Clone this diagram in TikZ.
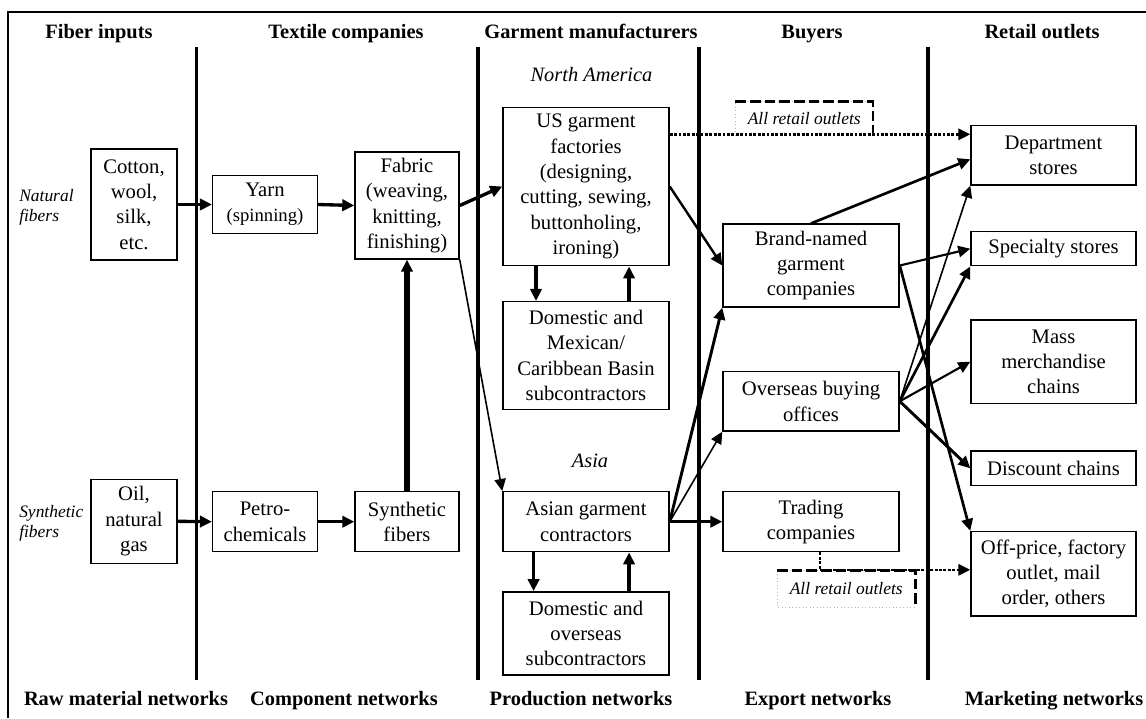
\documentclass[tikz,border=0pt]{standalone}
\usepackage{fontspec}
\setmainfont{Liberation Serif}
\usetikzlibrary{arrows.meta,calc}

\begin{document}
\begin{tikzpicture}[x=0.75pt,y=-0.75pt,
  box/.style={draw, line width=1.1pt, align=center, inner sep=0pt,
    font=\fontsize{15.5pt}{19pt}\selectfont},
  head/.style={font=\bfseries\fontsize{15.3pt}{18pt}\selectfont, inner sep=0pt, anchor=base},
  region/.style={font=\itshape\fontsize{15.3pt}{18pt}\selectfont, inner sep=0pt, anchor=base},
  side/.style={font=\itshape\fontsize{13.1pt}{15pt}\selectfont, align=left,
    anchor=west, inner sep=0pt},
  tag/.style={font=\itshape\fontsize{13.1pt}{15pt}\selectfont, inner sep=0pt},
  sep/.style={line width=3.2pt},
  tip/.style={-{Triangle[length=9pt,width=8.5pt]}},
  heavy/.style={tip, line width=2.5pt},
  mid/.style={tip, line width=1.8pt},
  light/.style={tip, line width=1.2pt},
  dotline/.style={tip, line width=1.9pt, dash pattern=on 2.2pt off 1.1pt},
  tagdash/.style={line width=1.8pt, dash pattern=on 8pt off 3pt},
  tagfaint/.style={line width=0.6pt, gray!60, dotted}
]
\useasboundingbox (0,0) rectangle (1146,718);

% frame
\draw[line width=1.2pt] (8,718) -- (8,12) -- (1146,12);

% column separators
\draw[line width=2.5pt] (196.5,47) -- (196.5,680);
\draw[sep] (478,47) -- (478,680);
\draw[sep] (699,47) -- (699,680);
\draw[sep] (928,47) -- (928,680);

% column headings
\node[head] (h1) at (99,38.5) {Fiber inputs};
\node[head] (h2) at (346,38.5) {Textile companies};
\node[head] (h3) at (591,38.5) {Garment manufacturers};
\node[head] (h4) at (812,38.5) {Buyers};
\node[head] (h5) at (1042,38.5) {Retail outlets};

% network labels
\node[head] (f1) at (126,705.5) {Raw material networks};
\node[head] (f2) at (344,705.5) {Component networks};
\node[head] (f3) at (581,705.5) {Production networks};
\node[head] (f4) at (818,705.5) {Export networks};
\node[head] (f5) at (1054,705.5) {Marketing networks};

% side and region labels
\node[side] (nat) at (19,207) {Natural\\fibers};
\node[side] (syn) at (19,523) {Synthetic\\fibers};
\node[region] (na) at (591.5,81.7) {North America};
\node[region] (as) at (590,467.3) {Asia};

% raw materials
\node[box, minimum width=64.5pt, minimum height=83.25pt] (cotton) at (134,204.5) {Cotton,\\wool,\\silk,\\etc.};
\node[box, minimum width=64.5pt, minimum height=63pt] (oil) at (134,521.3) {Oil,\\natural\\gas};

% components
\node[box, minimum width=78.5pt, minimum height=43.2pt] (yarn) at (265,204.5) {Yarn\\{\fontsize{14pt}{16pt}\selectfont(spinning)}};
\node[box, minimum width=78pt, minimum height=80.25pt] (fabric) at (407,205.5) {Fabric\\(weaving,\\knitting,\\finishing)};
\node[box, minimum width=78.5pt, minimum height=45pt] (petro) at (265,521.7) {Petro-\\chemicals};
\node[box, minimum width=78pt, minimum height=45pt] (synth) at (407,521.7) {Synthetic\\fibers};

% production
\node[box, minimum width=124.5pt, minimum height=118.8pt] (us) at (586,186.5) {US garment\\factories\\(designing,\\cutting, sewing,\\buttonholing,\\ironing)};
\node[box, minimum width=124.5pt, minimum height=80.7pt] (dommex) at (586,355.5) {Domestic and\\Mexican/\\Caribbean Basin\\subcontractors};
\node[box, minimum width=124.5pt, minimum height=45pt] (asian) at (586,521.7) {Asian garment\\contractors};
\node[box, minimum width=124.5pt, minimum height=62.5pt] (domover) at (586,633.5) {Domestic and\\overseas\\subcontractors};

% buyers
\node[box, minimum width=132pt, minimum height=62pt] (brand) at (811,265.5) {Brand-named\\garment\\companies};
\node[box, minimum width=132pt, minimum height=44.5pt] (overseas) at (811,401.3) {Overseas buying\\offices};
\node[box, minimum width=132pt, minimum height=45pt] (trading) at (811,521.7) {Trading\\companies};

% retail outlets
\node[box, minimum width=123.75pt, minimum height=44.5pt] (dept) at (1053.5,155.3) {Department\\stores};
\node[box, minimum width=123.75pt, minimum height=25.5pt] (spec) at (1053.5,248.7) {Specialty stores};
\node[box, minimum width=123.75pt, minimum height=62.5pt] (mass) at (1053.5,361.7) {Mass\\merchandise\\chains};
\node[box, minimum width=123.75pt, minimum height=26pt] (disc) at (1053.5,468.3) {Discount chains};
\node[box, minimum width=123.75pt, minimum height=63.2pt] (off) at (1053.5,573.8) {Off-price, factory\\outlet, mail\\order, others};

% "All retail outlets" tags
\node[tag, minimum width=102.75pt, minimum height=25pt] (ar1) at (804.2,118.4) {All retail outlets};
\node[tag, minimum width=103.3pt, minimum height=27.5pt] (ar2) at (846.2,589) {All retail outlets};
\draw[tagfaint] (ar1.south west) -- (ar1.north west) -- (ar1.north east);
\draw[tagdash] (ar1.north west) -- (ar1.north east) -- (ar1.south east);
\draw[tagfaint] (ar2.north east) -- (ar2.north west) -- (ar2.south west) -- (ar2.south east);
\draw[tagdash] (ar2.north west) -- (ar2.north east) -- (ar2.south east);

% fiber and textile flows
\draw[heavy] (cotton.east) -- (yarn.west);
\draw[heavy] (yarn.east) -- (fabric.west);
\draw[heavy] (oil.east) -- (petro.west);
\draw[heavy] (petro.east) -- (synth.west);
\draw[tip, line width=3.8pt] (synth.north) -- (fabric.south);
\draw[heavy] (fabric.east) -- (us.west);
\draw[light] (fabric.south east) -- (asian.north west);

% subcontracting loops
\draw[heavy] ([xshift=-37.5]us.south) -- ([xshift=-37.5]dommex.north);
\draw[heavy] ([xshift=32.3]dommex.north) -- ([xshift=32.3]us.south);
\draw[heavy] ([xshift=-39.3]asian.south) -- ([xshift=-39.3]domover.north);
\draw[heavy] ([xshift=32.3]domover.north) -- ([xshift=32.3]asian.south);

% to buyers
\draw[mid] (us.east) -- (brand.west);
\draw[mid, line width=2.2pt] (asian.east) -- (brand.south west);
\draw[light] (asian.east) -- (overseas.south west);
\draw[heavy] (asian.east) -- (trading.west);

% to retail outlets
\draw[mid, line width=2pt] (brand.north) -- ($(dept.west)+(0,4)$);
\draw[mid, line width=1.6pt] (brand.east) -- (spec.west);
\draw[mid, line width=2pt] (brand.east) -- (off.north west);
\draw[light] (overseas.east) -- (dept.south west);
\draw[mid, line width=2pt] (overseas.east) -- (spec.south west);
\draw[mid, line width=1.6pt] (overseas.east) -- (mass.west);
\draw[mid, line width=2.2pt] (overseas.east) -- (disc.west);

% direct supply to all retail outlets
\coordinate (d1) at ($(dept.west)+(0,-21)$);
\draw[dotline] (us.east |- d1) -- (d1);
\coordinate (d2) at ($(off.west)+(0,-4)$);
\draw[dotline] ($(trading.south)+(9,0)$) |- (d2);
\end{tikzpicture}
\end{document}
